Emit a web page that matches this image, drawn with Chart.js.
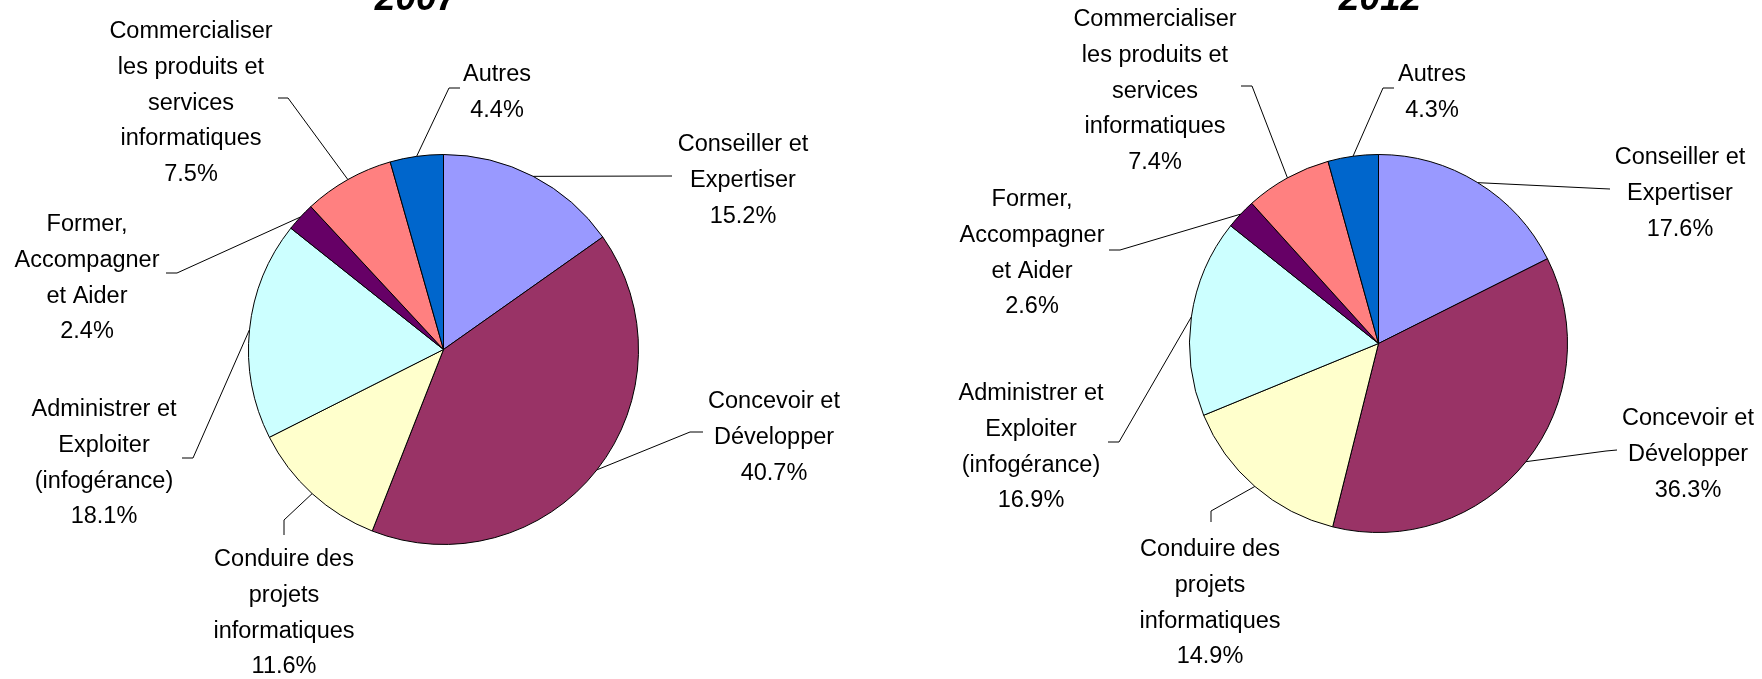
<!DOCTYPE html>
<html lang="fr">
<head>
<meta charset="utf-8">
<title>Répartition des métiers 2007 / 2012</title>
<script src="https://cdn.jsdelivr.net/npm/chart.js@4/dist/chart.umd.min.js"></script>
<style>
  html, body { margin: 0; padding: 0; background: #ffffff; }
  #page { position: relative; width: 1762px; height: 679px; overflow: hidden; }
  .pie-box { position: absolute; top: 0; width: 881px; height: 679px; }
  #box-2007 { left: 0; }
  #box-2012 { left: 881px; }
</style>
</head>
<body>
<div id="page">
  <div class="pie-box" id="box-2007"><canvas id="pie-2007" width="881" height="679"></canvas></div>
  <div class="pie-box" id="box-2012"><canvas id="pie-2012" width="881" height="679"></canvas></div>
</div>
<script>
/** Two pies (2007 / 2012) with Excel-style outside labels and leader lines. */

const CATEGORIES = [
  ["Conseiller et", "Expertiser"],
  ["Concevoir et", "Développer"],
  ["Conduire des", "projets", "informatiques"],
  ["Administrer et", "Exploiter", "(infogérance)"],
  ["Former,", "Accompagner", "et Aider"],
  ["Commercialiser", "les produits et", "services", "informatiques"],
  ["Autres"],
];

const VALUES_2007 = [15.2, 40.7, 11.6, 18.1, 2.4, 7.5, 4.4];
const VALUES_2012 = [17.6, 36.3, 14.9, 16.9, 2.6, 7.4, 4.3];

const SLICE_COLORS = ["#9999FF", "#993366", "#FFFFCC", "#CCFFFF", "#660066", "#FF8080", "#0066CC"];

const LABEL_FONT = "23.5px 'Liberation Sans', Arial, sans-serif";
const TITLE_FONT = "italic bold 37px 'Liberation Sans', Arial, sans-serif";
const LINE_H = 35.6;

// label block placement: text centre x, first line centre y, leader elbow and end (page px)
const PLACES_2007 = [
  { x: 743, y: 143, elbow: [672, 176], end: [672, 176] },
  { x: 774, y: 400, elbow: [690, 432], end: [703, 432] },
  { x: 284, y: 558, elbow: [284, 520], end: [284, 535] },
  { x: 104, y: 408, elbow: [193, 458], end: [182, 458] },
  { x: 87, y: 223, elbow: [177, 273], end: [166, 273] },
  { x: 191, y: 30, elbow: [288, 98], end: [278, 98] },
  { x: 497, y: 73, elbow: [449, 88], end: [460, 88] },
];

const PLACES_2012 = [
  { x: 1680, y: 156, elbow: [1599, 188.5], end: [1610, 189] },
  { x: 1688, y: 417, elbow: [1606, 451], end: [1617, 450] },
  { x: 1210, y: 548, elbow: [1211, 511], end: [1211, 522] },
  { x: 1031, y: 392, elbow: [1119, 442], end: [1108, 442] },
  { x: 1032, y: 198, elbow: [1120, 250], end: [1109, 250] },
  { x: 1155, y: 18, elbow: [1252, 86], end: [1241, 86] },
  { x: 1432, y: 73, elbow: [1383, 88], end: [1394, 88] },
];

const sliceLabels = {
  id: "sliceLabels",
  afterDatasetsDraw(chart, args, opts) {
    const ctx = chart.ctx;
    const meta = chart.getDatasetMeta(0);
    const values = chart.data.datasets[0].data;
    const dx = opts.offsetX;

    ctx.save();
    ctx.strokeStyle = "#000000";
    ctx.fillStyle = "#000000";
    ctx.lineWidth = 1;

    meta.data.forEach((arc, i) => {
      const p = arc.getProps(["x", "y", "startAngle", "endAngle", "outerRadius"], true);
      const mid = (p.startAngle + p.endAngle) / 2;
      const sx = p.x + Math.cos(mid) * p.outerRadius;
      const sy = p.y + Math.sin(mid) * p.outerRadius;
      const place = opts.places[i];

      //leader line: edge of slice -> elbow -> short tick toward the label
      ctx.beginPath();
      ctx.moveTo(sx, sy);
      ctx.lineTo(place.elbow[0] - dx, place.elbow[1]);
      ctx.lineTo(place.end[0] - dx, place.end[1]);
      ctx.stroke();

      //label text: category lines then percentage
      ctx.font = LABEL_FONT;
      ctx.textAlign = "center";
      ctx.textBaseline = "alphabetic";
      const lines = [...CATEGORIES[i], `${values[i].toFixed(1)}%`];
      lines.forEach((t, k) => ctx.fillText(t, place.x - dx, place.y + 8.4 + k * LINE_H));
    });

    //year title, cut by the top edge like the original
    ctx.font = TITLE_FONT;
    ctx.textAlign = "center";
    ctx.textBaseline = "alphabetic";
    ctx.fillText(opts.title, opts.titleX - dx, opts.titleY);
    ctx.restore();
  },
};

function buildPie(canvasId, values, places, title, titleX, offsetX, padding) {
  return new Chart(document.getElementById(canvasId), {
    type: "pie",
    data: {
      labels: CATEGORIES.map((c) => c.join(" ")),
      datasets: [
        {
          data: values,
          backgroundColor: SLICE_COLORS,
          borderColor: "#000000",
          borderWidth: 1,
          hoverOffset: 0,
        },
      ],
    },
    options: {
      responsive: false,
      animation: false,
      devicePixelRatio: 1,
      layout: { padding },
      plugins: {
        legend: { display: false },
        tooltip: { enabled: false },
        sliceLabels: { places, title, titleX, titleY: 10, offsetX },
      },
    },
    plugins: [sliceLabels],
  });
}

buildPie("pie-2007", VALUES_2007, PLACES_2007, "2007", 416, 0,
  { left: 248, right: 242, top: 154, bottom: 134 });
buildPie("pie-2012", VALUES_2012, PLACES_2012, "2012", 1380, 881,
  { left: 308, right: 194, top: 154, bottom: 146 });
</script>
</body>
</html>
